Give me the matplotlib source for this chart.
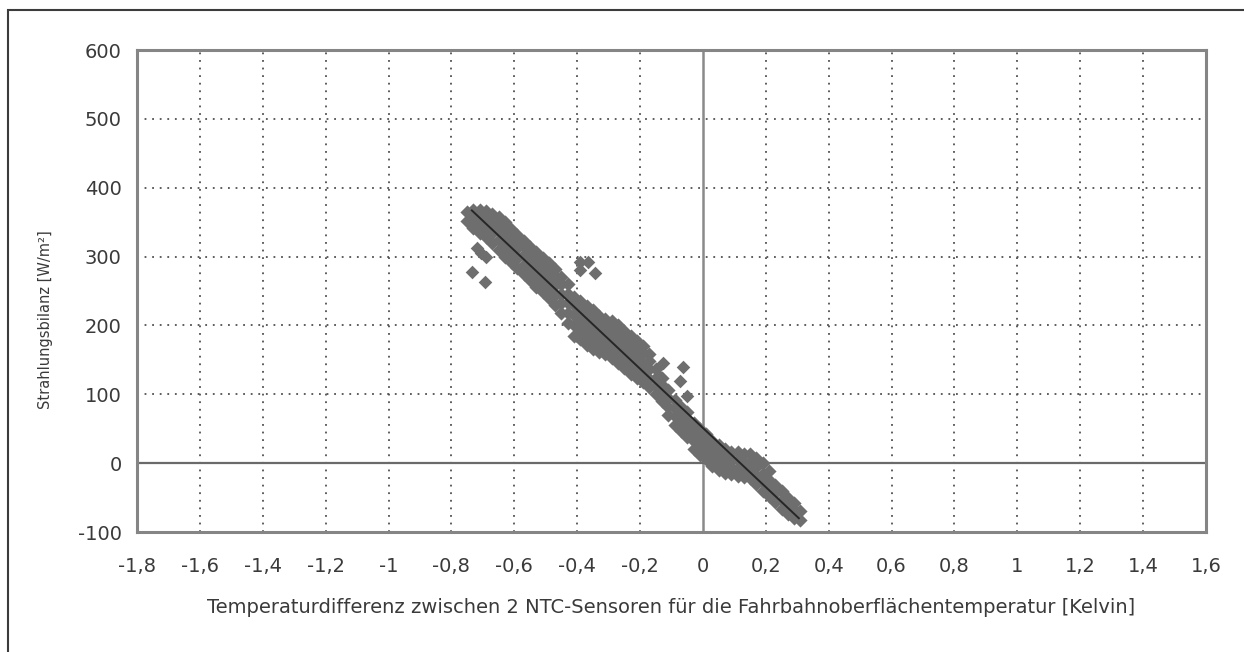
import matplotlib.pyplot as plt
import matplotlib.patches as mpatches
import numpy as np

# Temperature difference between two NTC sensors [K] vs. radiation balance [W/m²]
# main cloud: for each x station the y values of the measured points
band_x = [-0.75, -0.73, -0.71, -0.69, -0.67, -0.65, -0.63, -0.61, -0.59, -0.57,
          -0.55, -0.53, -0.51, -0.49, -0.47, -0.45, -0.43, -0.41, -0.39, -0.37,
          -0.35, -0.33, -0.31, -0.29, -0.27, -0.25, -0.23, -0.21, -0.19, -0.17,
          -0.15, -0.13, -0.11, -0.09, -0.07, -0.05, -0.03, -0.01, 0.01, 0.03,
          0.05, 0.07, 0.09, 0.11, 0.13, 0.15, 0.17, 0.19, 0.21, 0.23,
          0.25, 0.27, 0.29, 0.31]
band_y = [
    [352, 365], [342, 356, 368], [334, 348, 362, 368], [328, 342, 356, 366],
    [320, 334, 348, 362], [310, 324, 338, 352, 358], [300, 314, 328, 342, 350],
    [292, 306, 320, 334, 340], [284, 298, 312, 326, 332], [274, 288, 302, 316, 322],
    [266, 280, 294, 308, 314], [256, 270, 284, 298, 306], [248, 262, 276, 290, 298],
    [240, 254, 268, 282, 290], [230, 244, 258, 272, 282], [218, 232, 246, 260, 270],
    [204, 218, 232, 246, 260], [185, 200, 215, 230, 242], [180, 195, 210, 225, 236],
    [172, 188, 202, 216, 228], [166, 180, 195, 210, 222], [162, 176, 190, 204, 214],
    [158, 172, 186, 200, 210], [152, 166, 180, 194, 206], [146, 160, 174, 188, 200],
    [138, 152, 166, 180, 192], [130, 144, 158, 172, 184], [124, 138, 152, 166, 178],
    [118, 132, 146, 160, 170], [110, 122, 136, 148, 158], [100, 112, 124, 136],
    [90, 102, 114, 124], [70, 82, 94, 106], [56, 68, 80, 92], [46, 58, 70, 82],
    [38, 50, 62, 74], [20, 32, 44, 58], [12, 24, 36, 50], [6, 18, 30, 42],
    [-4, 8, 20, 32], [-10, 2, 14, 26], [-14, -2, 10, 20], [-16, -6, 6, 16],
    [-18, -8, 4, 16], [-20, -10, 2, 14], [-22, -12, 0, 14], [-30, -18, -6, 8],
    [-40, -28, -16, 0], [-48, -36, -24, -12], [-56, -44, -32], [-66, -54, -40],
    [-74, -62, -50], [-80, -68, -58], [-82, -70],
]

# scattered single readings off the band
out_x = [-0.735, -0.693, -0.72, -0.705, -0.69, -0.39, -0.366, -0.39, -0.343,
         -0.127, -0.064, -0.137, -0.073, -0.05]
out_y = [277, 263, 313, 305, 300, 292, 292, 280, 276, 145, 140, 125, 120, 98]

# linear regression line
fit_x = [-0.735, 0.305]
fit_y = [367, -80]

x_ticks = [-1.8, -1.6, -1.4, -1.2, -1.0, -0.8, -0.6, -0.4, -0.2, 0.0,
           0.2, 0.4, 0.6, 0.8, 1.0, 1.2, 1.4, 1.6]
x_tick_labels = ["-1,8", "-1,6", "-1,4", "-1,2", "-1", "-0,8", "-0,6", "-0,4", "-0,2",
                 "0", "0,2", "0,4", "0,6", "0,8", "1", "1,2", "1,4", "1,6"]
y_ticks = [-100, 0, 100, 200, 300, 400, 500, 600]

pts_x = [x for x, ys in zip(band_x, band_y) for _ in ys]
pts_y = [y for ys in band_y for y in ys]

plt.rcParams['font.family'] = ['DejaVu Sans']
plt.rcParams['axes.unicode_minus'] = False
text_col = '#3a3a3a'
dot_col = '#6e6e6e'

fig = plt.figure(figsize=(12.44, 6.52), dpi=100)
ax = fig.add_axes([137 / 1244, 120 / 652, 1069 / 1244, 482 / 652])

# dotted grid, solid zero lines
for xv in x_ticks[1:-1]:
    if xv != 0:
        ax.axvline(xv, color='#505050', lw=1.3, ls=(0, (1, 3.2)), zorder=1)
for yv in y_ticks[1:-1]:
    if yv != 0:
        ax.axhline(yv, color='#505050', lw=1.3, ls=(0, (1, 3.2)), zorder=1)
ax.axvline(0, color='#8a8a8a', lw=1.8, zorder=1)
ax.axhline(0, color='#6a6a6a', lw=1.6, zorder=1)

ax.scatter(pts_x, pts_y, marker='D', s=52, color=dot_col, linewidths=0, zorder=2)
ax.scatter(out_x, out_y, marker='D', s=48, color=dot_col, linewidths=0, zorder=2)
ax.plot(fit_x, fit_y, color='#262626', lw=1.4, zorder=3)

ax.set_xlim(-1.8, 1.6)
ax.set_ylim(-100, 600)
ax.set_xticks(x_ticks)
ax.set_xticklabels(x_tick_labels)
ax.set_yticks(y_ticks)
ax.tick_params(axis='both', length=0, labelsize=14, labelcolor=text_col)
ax.tick_params(axis='x', pad=18)
ax.tick_params(axis='y', pad=11)

for sp in ax.spines.values():
    sp.set_color('#858585')
    sp.set_linewidth(2.2)

ax.set_xlabel('Temperaturdifferenz zwischen 2 NTC-Sensoren für die Fahrbahnoberflächentemperatur [Kelvin]',
              fontsize=14, color=text_col, labelpad=16)
ax.set_ylabel('Strahlungsbilanz [W/m²]', fontsize=10.5, color=text_col)
ax.yaxis.set_label_coords(-0.079, 0.44)

# outer frame
fig.add_artist(mpatches.Rectangle((8 / 1244, -0.1), 1.2, 1.1 - 10 / 652,
                                  transform=fig.transFigure, fill=False,
                                  edgecolor='#3c3c3c', lw=1.5))

fig.savefig('out.png', dpi=100)
